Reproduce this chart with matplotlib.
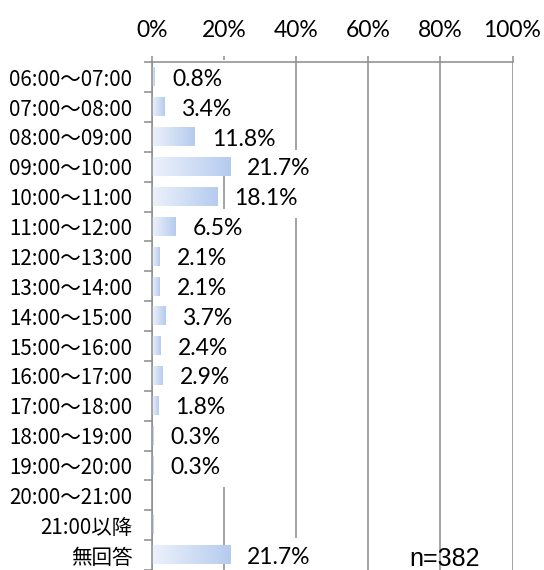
import matplotlib
matplotlib.use("Agg")
import matplotlib.pyplot as plt
import numpy as np
from matplotlib.colors import LinearSegmentedColormap

# 時間帯別の回答割合 (%)
categories = ["06:00〜07:00", "07:00〜08:00", "08:00〜09:00", "09:00〜10:00",
              "10:00〜11:00", "11:00〜12:00", "12:00〜13:00", "13:00〜14:00",
              "14:00〜15:00", "15:00〜16:00", "16:00〜17:00", "17:00〜18:00",
              "18:00〜19:00", "19:00〜20:00", "20:00〜21:00", "21:00以降", "無回答"]
values = [0.8, 3.4, 11.8, 21.7, 18.1, 6.5, 2.1, 2.1, 3.7, 2.4, 2.9, 1.8,
          0.3, 0.3, 0.0, 0.5, 21.7]
show_label = [True] * 14 + [False, False, True]
xticks = [0, 20, 40, 60, 80, 100]
n_total = 382

grid_col = "#8c8c8c"
cmap = LinearSegmentedColormap.from_list("bar", ["#edf2fb", "#b5cbee"])
grad = np.linspace(0, 1, 256).reshape(1, -1)

fig = plt.figure(figsize=(5.44, 5.70), dpi=100)
ax = fig.add_axes([0.2789, 0.0, 0.6632, 0.8907])

bar_h = 0.62
for i, v in enumerate(values):
    # bars sit above the white label boxes so they never get clipped
    if v > 0:
        ax.imshow(grad, cmap=cmap, aspect="auto", zorder=5,
                  extent=(0, v, i + bar_h / 2, i - bar_h / 2))
    if show_label[i]:
        ax.annotate(f"{v:.1f}%", xy=(v, i), xytext=(12.5, -1.5),
                    textcoords="offset points", ha="left", va="center",
                    fontsize=16.5, family="Lato", zorder=4,
                    bbox=dict(boxstyle="square,pad=0.38", fc="white", ec="none"))

ax.set_xlim(0, 100)
ax.set_ylim(len(categories) - 0.5, -0.5)

ax.xaxis.tick_top()
ax.set_xticks(xticks)
ax.set_xticklabels([f"{t}%" for t in xticks], family="Lato", fontsize=16.5)
ax.tick_params(axis="x", direction="out", length=4, width=1.1, color=grid_col, pad=11)
ax.xaxis.grid(True, color=grid_col, linewidth=1.1, zorder=1)
ax.set_axisbelow(True)

ax.set_yticks(range(len(categories)))
ax.set_yticklabels(categories, family=["Noto Sans CJK JP", "DejaVu Sans"], fontsize=14.8)
ax.set_yticks(np.arange(-0.5, len(categories), 1), minor=True)
ax.tick_params(axis="y", which="major", length=0, pad=14)
ax.tick_params(axis="y", which="minor", direction="out", length=6, width=1.1, color=grid_col)

for side in ["right", "bottom"]:
    ax.spines[side].set_visible(False)
for side in ["left", "top"]:
    ax.spines[side].set_color(grid_col)
    ax.spines[side].set_linewidth(1.1)
    ax.spines[side].set_zorder(6)

ax.annotate(f"n={n_total}", xy=(71.5, 16), xytext=(0, -3), textcoords="offset points",
            ha="left", va="center", fontsize=18, family="Liberation Sans", zorder=5)

fig.savefig("out.png", dpi=100)
